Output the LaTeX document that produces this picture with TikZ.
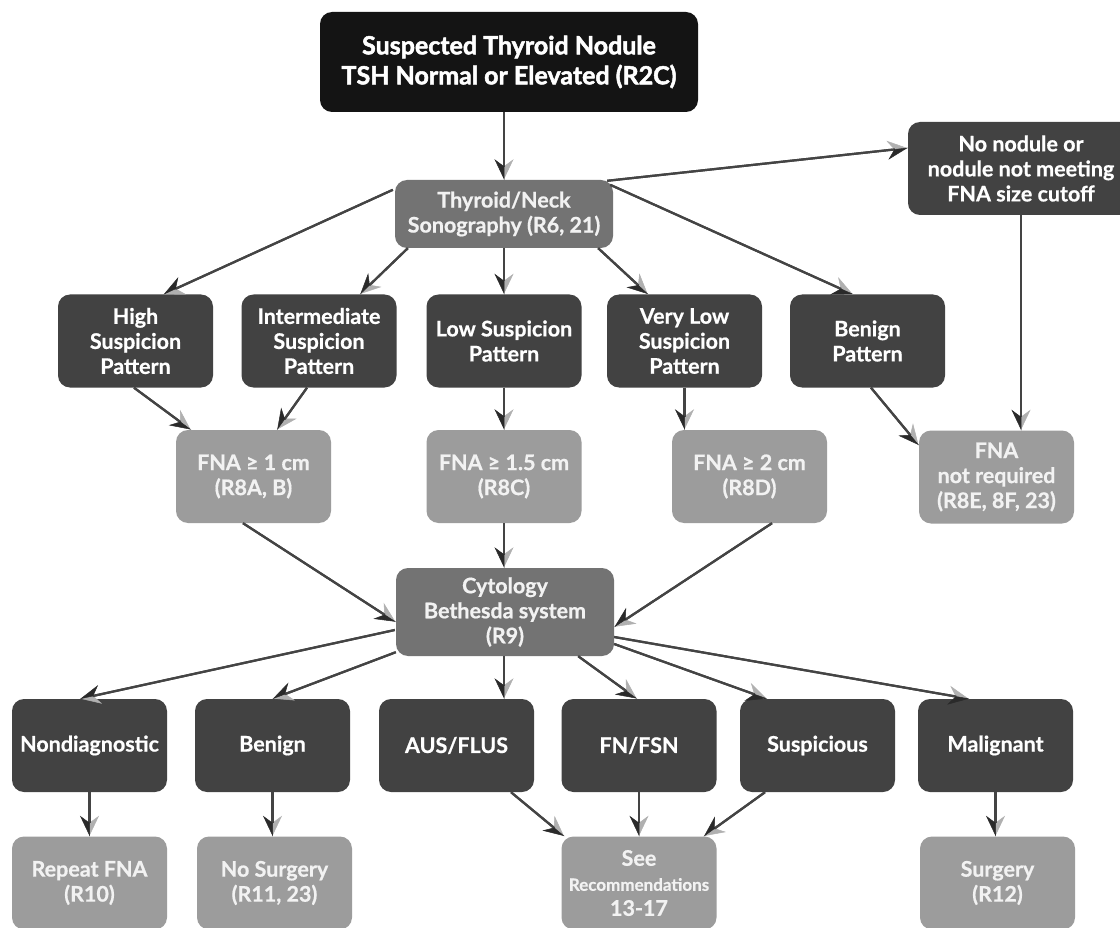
\documentclass[tikz,border=0pt]{standalone}
\usepackage{fontspec}
\setmainfont{Lato}[BoldFeatures={FakeBold=0.7}]
\newfontfamily\heavyfont{Lato}[BoldFeatures={FakeBold=2}]
\usetikzlibrary{arrows.meta,calc}
\definecolor{cblack}{HTML}{141414}
\definecolor{cdark}{HTML}{424242}
\definecolor{cmid}{HTML}{737373}
\definecolor{clight}{HTML}{9C9C9C}
\definecolor{cline}{HTML}{444444}
\definecolor{ctipl}{HTML}{B0B0B0}
\definecolor{ctipd}{HTML}{2A2A2A}
\definecolor{ctext}{HTML}{F2F2F2}
\begin{document}
\begin{tikzpicture}[x=1pt,y=-1pt,
  box/.style={rounded corners=12pt, align=center, inner sep=0pt, text=ctext,
    font=\bfseries\fontsize{21.5}{25}\selectfont},
  topbox/.style={box, fill=cblack, text=white, font=\heavyfont\bfseries\fontsize{25}{30}\selectfont},
  dbox/.style={box, fill=cdark, text=white},
  mbox/.style={box, fill=cmid},
  lbox/.style={box, fill=clight},
  rowsize/.style={minimum width=155pt, minimum height=93pt},
  arr/.style={draw=cline, line width=2.2pt,
    -{Stealth[harpoon,length=20pt,width=19pt,inset=7pt,line width=0.5pt,color=ctipl]},
    postaction={draw=cline, line width=2.2pt,
      -{Stealth[harpoon,swap,length=20pt,width=19pt,inset=7pt,line width=0.5pt,color=ctipd]}}}
]
\useasboundingbox (0,0) rectangle (1120,928);
\clip (0,0) rectangle (1120,928);
\fill[white] (0,0) rectangle (1120,928);

% top
\node[topbox, minimum width=378pt, minimum height=100pt] (top) at (509,62)
  {Suspected Thyroid Nodule\\TSH Normal or Elevated (R2C)};
\node[mbox, minimum width=218pt, minimum height=68pt] (sono) at (504,214)
  {Thyroid/Neck\\Sonography (R6, 21)};
\node[dbox, minimum width=226pt, minimum height=93pt] (nonod) at (1021,168.5)
  {No nodule or\\nodule not meeting\\FNA size cutoff};

% patterns
\node[dbox, rowsize] (high) at (135.5,341) {High\\Suspicion\\Pattern};
\node[dbox, rowsize] (inter) at (319,341) {Intermediate\\Suspicion\\Pattern};
\node[dbox, rowsize] (low) at (504,341) {Low Suspicion\\Pattern};
\node[dbox, rowsize] (vlow) at (684.5,341) {Very Low\\Suspicion\\Pattern};
\node[dbox, rowsize] (benp) at (867.5,341) {Benign\\Pattern};

% FNA
\node[lbox, rowsize] (fna1) at (253.5,476.5) {FNA ≥ 1 cm\\(R8A, B)};
\node[lbox, rowsize] (fna15) at (504,476.5) {FNA ≥ 1.5 cm\\(R8C)};
\node[lbox, rowsize] (fna2) at (749.5,476.5) {FNA ≥ 2 cm\\(R8D)};
\node[lbox, rowsize] (fnano) at (996.5,477) {FNA\\not required\\(R8E, 8F, 23)};

% cytology
\node[mbox, minimum width=218pt, minimum height=88pt] (cyto) at (505,612)
  {Cytology\\Bethesda system\\(R9)};

% results
\node[dbox, rowsize] (nondiag) at (89.5,745.5) {Nondiagnostic};
\node[dbox, rowsize] (benign) at (272.5,745.5) {Benign};
\node[dbox, rowsize] (aus) at (456.5,745.5) {AUS/FLUS};
\node[dbox, rowsize] (fnfsn) at (639,745.5) {FN/FSN};
\node[dbox, rowsize] (susp) at (817.5,745.5) {Suspicious};
\node[dbox, rowsize] (malig) at (995.5,745.5) {Malignant};

% actions
\node[lbox, rowsize] (repeat) at (89.5,883) {Repeat FNA\\(R10)};
\node[lbox, rowsize] (nosurg) at (274.5,883) {No Surgery\\(R11, 23)};
\node[lbox, rowsize] (see) at (639,883)
  {See\\{\fontsize{17}{25}\selectfont Recommendations}\\13-17};
\node[lbox, rowsize] (surg) at (997.5,883) {Surgery\\(R12)};

\coordinate (ausin) at ($(aus.north)+(47.5,0)$);

% connectors
\draw[arr] (top.south -| sono.north) -- (sono.north);
\draw[arr] ($(sono.north east)+(-6,1)$) -- ($(nonod.west)+(0,-20.5)$);
\draw[arr] ($(sono.north west)+(-2,10)$) -- ($(high.north)+(28,0)$);
\draw[arr] ($(sono.south west)+(13,0)$) -- ($(inter.north)+(41,0)$);
\draw[arr] (sono.south) -- (low.north);
\draw[arr] ($(sono.south east)+(-15,0)$) -- ($(vlow.north)+(-36.5,0)$);
\draw[arr] ($(sono.north east)+(-3,5)$) -- ($(benp.north)+(-14.5,0)$);

\draw[arr] ($(high.south)+(-1.5,0)$) -- ($(fna1.north)+(-62.5,0)$);
\draw[arr] ($(inter.south)+(-12,0)$) -- ($(fna1.north)+(23.5,0)$);
\draw[arr] (low.south) -- (fna15.north);
\draw[arr] (vlow.south) -- (vlow.south |- fna2.north);
\draw[arr] ($(benp.south)+(3.5,0)$) -- ($(fnano.north west)+(0,15)$);
\draw[arr] (nonod.south) -- (nonod.south |- fnano.north);

\draw[arr] ($(fna1.south)+(-10.5,0)$) -- ($(cyto.west)+(0,10)$);
\draw[arr] (fna15.south) -- (fna15.south |- cyto.north);
\draw[arr] ($(fna2.south)+(22.5,0)$) -- ($(cyto.east)+(0,15)$);

\draw[arr] ($(cyto.west)+(-1,18)$) -- ($(nondiag.north)+(-9.5,0)$);
\draw[arr] ($(cyto.south west)+(0,-4)$) -- (benign.north);
\draw[arr] (cyto.south -| ausin) -- (ausin);
\draw[arr] ($(cyto.south east)+(-36,0)$) -- ($(fnfsn.north)+(-2,0)$);
\draw[arr] ($(cyto.east)+(0,32)$) -- ($(susp.north)+(-50.5,0)$);
\draw[arr] ($(cyto.east)+(0,25)$) -- ($(malig.north)+(-26.5,0)$);

\draw[arr] (nondiag.south) -- (repeat.north);
\draw[arr] (benign.south) -- (benign.south |- nosurg.north);
\draw[arr] ($(aus.south)+(54.5,0)$) -- ($(see.north west)+(3,0)$);
\draw[arr] (fnfsn.south) -- (see.north);
\draw[arr] ($(susp.south)+(-52.5,0)$) -- ($(see.north east)+(-13,0)$);
\draw[arr] (malig.south) -- (malig.south |- surg.north);
\end{tikzpicture}
\end{document}
